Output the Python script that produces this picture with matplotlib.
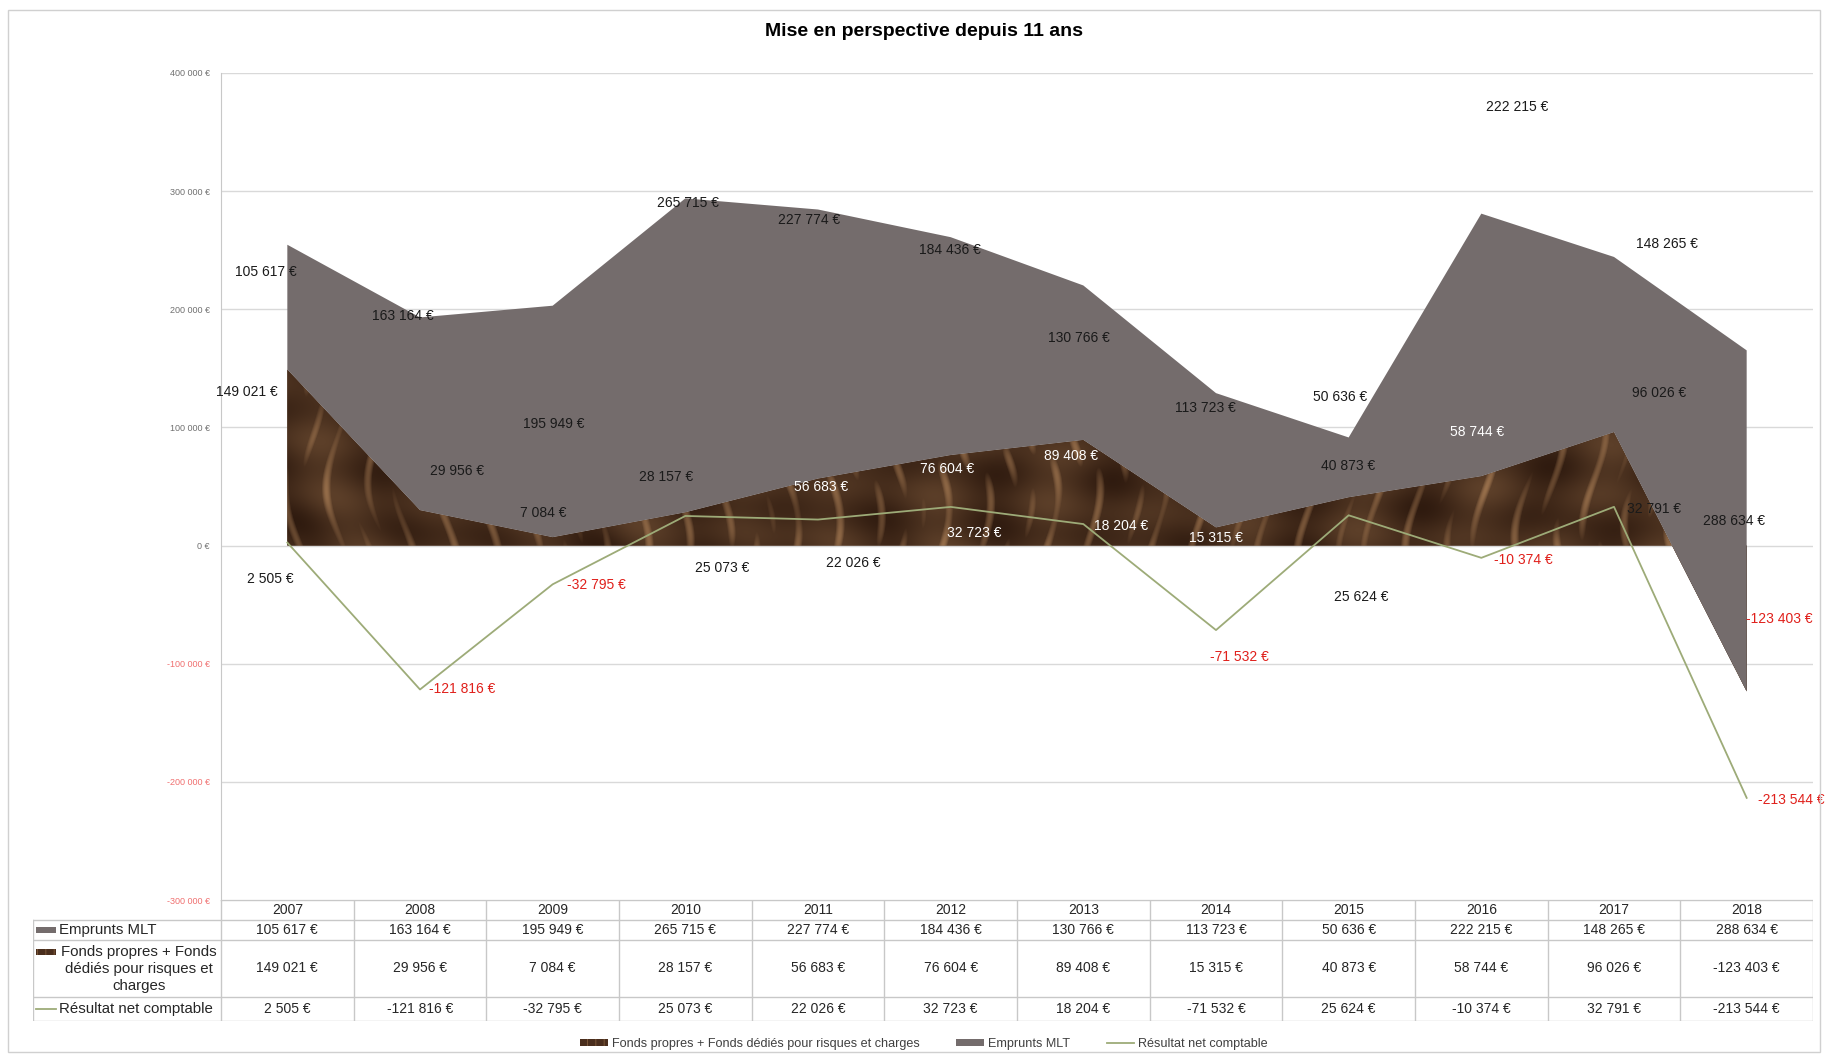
import numpy as np
import matplotlib.pyplot as plt
from matplotlib.patches import Patch, Rectangle
from matplotlib.lines import Line2D

plt.rcParams['font.family'] = ['Liberation Sans', 'DejaVu Sans']
plt.rcParams['hatch.linewidth'] = 0.7

years = ['2007', '2008', '2009', '2010', '2011', '2012', '2013', '2014', '2015', '2016', '2017', '2018']
emprunts = [105617, 163164, 195949, 265715, 227774, 184436, 130766, 113723, 50636, 222215, 148265, 288634]
fonds = [149021, 29956, 7084, 28157, 56683, 76604, 89408, 15315, 40873, 58744, 96026, -123403]
resultat = [2505, -121816, -32795, 25073, 22026, 32723, 18204, -71532, 25624, -10374, 32791, -213544]

name_emp = 'Emprunts MLT'
name_fonds = 'Fonds propres + Fonds dédiés pour risques et charges'
name_res = 'Résultat net comptable'

# label offsets in pixels from the data point (Excel placed them by hand)
off_emp = [(-21, -27), (-17, 1), (1, -118), (3, -5), (-9, -10), (-1, -13),
           (-4, -53), (-11, -15), (-9, 40), (36, 107), (53, 13), (-13, -171)]
off_fonds = [(-40, -22), (37, 39), (-9, 24), (-19, 35), (3, -8), (-4, -14),
             (-12, -16), (0, -11), (-1, 31), (-4, 44), (45, 39), (33, 72)]
col_fonds = ['k', 'k', 'k', 'k', 'w', 'w', 'w', 'w', 'k', 'w', 'k', None]
off_res = [(-17, -36), (42, 0), (44, -1), (37, -52), (35, -43), (24, -26),
           (38, -2), (23, -27), (13, -82), (42, -2), (40, -2), (45, -2)]
col_res = ['k', None, None, 'k', 'k', 'w', 'w', None, 'k', None, 'k', None]

GRAY = '#746c6c'
BROWN = '#4a2e1d'
GREEN = '#9dab78'
RED = '#e0201b'
INK = '#1a1a1a'


def euro(v):
    return f"{v:,.0f}".replace(',', ' ') + ' €'


W, H = 1825, 1057
fig = plt.figure(figsize=(W / 100, H / 100), dpi=100)
fig.patches.append(Rectangle((8 / W, 1 - 1052 / H), 1812 / W, 1042 / H, transform=fig.transFigure,
                             fill=False, edgecolor='#d0d0d0', lw=1))

ax = fig.add_axes([221 / W, 1 - 900 / H, (1813 - 221) / W, (900 - 73) / H])
x = np.arange(len(years))
emp = np.array(emprunts)
fp = np.array(fonds)
res = np.array(resultat)
top = fp + emp

ax.set_xlim(-0.5, len(years) - 0.5)
ax.set_ylim(-300000, 400000)

poly = ax.fill_between(x, 0, fp, facecolor=BROWN, lw=0, zorder=2)

# marble-like texture for the brown area, clipped to its polygon
u, v = np.meshgrid(np.arange(1592), np.arange(827))
s1 = np.sin(u * 0.23 + 2.6 * np.sin(v * 0.033 + u * 0.004))
s2 = np.sin(u * 0.061 + 1.8 * np.sin(v * 0.021 - u * 0.002))
s3 = np.sin(u * 0.017 + v * 0.043) * np.sin(v * 0.071 - u * 0.027)
veins = np.clip((s1 * s2 - 0.45) / 0.55, 0, 1)
b = 0.22 + 0.5 * veins + 0.12 * s3 + 0.08 * s2
b = np.clip(b, 0, 1)[..., None]
dark = np.array([45, 25, 14]) / 255
light = np.array([160, 118, 80]) / 255
tex = dark + b * (light - dark)
im = ax.imshow(tex, extent=(-0.5, len(years) - 0.5, -300000, 400000), aspect='auto', zorder=2.5,
               interpolation='bilinear')
im.set_clip_path(poly.get_paths()[0], transform=ax.transData)

ax.fill_between(x, fp, top, facecolor=GRAY, lw=0, zorder=3)
ax.plot(x, res, color=GREEN, lw=1.3, zorder=4)

ax.set_yticks(np.arange(-300000, 400001, 100000))
ax.set_yticklabels([euro(t) for t in ax.get_yticks()], fontsize=6.5)
for t, val in zip(ax.get_yticklabels(), ax.get_yticks()):
    t.set_color('#f07070' if val < 0 else '#707070')
ax.set_xticks([])
ax.tick_params(axis='y', length=0, pad=8)
ax.yaxis.grid(True, color='#d9d9d9', lw=1)
ax.set_axisbelow(True)
for s in ['top', 'right', 'bottom']:
    ax.spines[s].set_visible(False)
ax.spines['left'].set_color('#c8c8c8')

for i in range(len(years)):
    ax.annotate(euro(emp[i]), (x[i], top[i]), xytext=off_emp[i], textcoords='offset pixels',
                ha='center', va='center', fontsize=10, color=INK, zorder=6)
    c = col_fonds[i] or RED
    ax.annotate(euro(fp[i]), (x[i], fp[i]), xytext=off_fonds[i], textcoords='offset pixels',
                ha='center', va='center', fontsize=10, color=INK if c == 'k' else c, zorder=6)
    c = col_res[i] or RED
    ax.annotate(euro(res[i]), (x[i], res[i]), xytext=off_res[i], textcoords='offset pixels',
                ha='center', va='center', fontsize=10, color=INK if c == 'k' else c, zorder=6)

fig.text(924 / W, 1 - 31 / H, 'Mise en perspective depuis 11 ans', ha='center', va='center',
         fontsize=14, fontweight='bold')

# data table under the chart, in pixel coordinates
tax = fig.add_axes([33 / W, 1 - 1021 / H, (1813 - 33) / W, (1021 - 900) / H])
tax.set_xlim(33, 1813)
tax.set_ylim(1021, 900)
tax.axis('off')
colw = (1813 - 221) / len(years)
rows = [900, 920, 940, 997, 1021]
lc = '#c8c8c8'
tax.plot([221, 1813], [900, 900], color=lc, lw=1)
for yb in rows[1:]:
    tax.plot([33, 1813], [yb, yb], color=lc, lw=1)
tax.plot([33, 33], [920, 1021], color=lc, lw=1)
for k in range(len(years) + 1):
    tax.plot([221 + k * colw] * 2, [900, 1021], color=lc, lw=1)

series_rows = [[euro(val) for val in emp], [euro(val) for val in fp], [euro(val) for val in res]]
for k, yr in enumerate(years):
    xc = 221 + (k + 0.5) * colw
    tax.text(xc, (rows[0] + rows[1]) / 2, yr, ha='center', va='center', fontsize=10, color='#262626')
    for r in range(3):
        tax.text(xc, (rows[r + 1] + rows[r + 2]) / 2, series_rows[r][k], ha='center', va='center',
                 fontsize=10, color='#262626')

# row headers with legend keys
tax.add_patch(Rectangle((36, 927), 20, 6, color=GRAY, lw=0))
tax.text(59, 930, name_emp, ha='left', va='center', fontsize=10.8, color='#262626')
tax.add_patch(Rectangle((36, 949), 20, 6, facecolor=BROWN, edgecolor='#7a5638', hatch='||', lw=0))
tax.text(139, 969, 'Fonds propres + Fonds\ndédiés pour risques et\ncharges', ha='center', va='center',
         fontsize=10.8, color='#262626', linespacing=1.25, multialignment='center')
tax.plot([36, 56], [1009, 1009], color=GREEN, lw=1.3)
tax.text(59, 1009, name_res, ha='left', va='center', fontsize=10.8, color='#262626')

handles = [Patch(facecolor=BROWN, edgecolor='#7a5638', hatch='||', lw=0),
           Patch(facecolor=GRAY, lw=0),
           Line2D([0], [0], color=GREEN, lw=1.3)]
fig.legend(handles, [name_fonds, name_emp, name_res], loc='center', bbox_to_anchor=(924 / W, 1 - 1044 / H),
           ncol=3, frameon=False, fontsize=9.1, handlelength=2.2, handleheight=0.5, columnspacing=2.9,
           handletextpad=0.3, labelcolor='#404040')

fig.savefig('out.png', dpi=100)
